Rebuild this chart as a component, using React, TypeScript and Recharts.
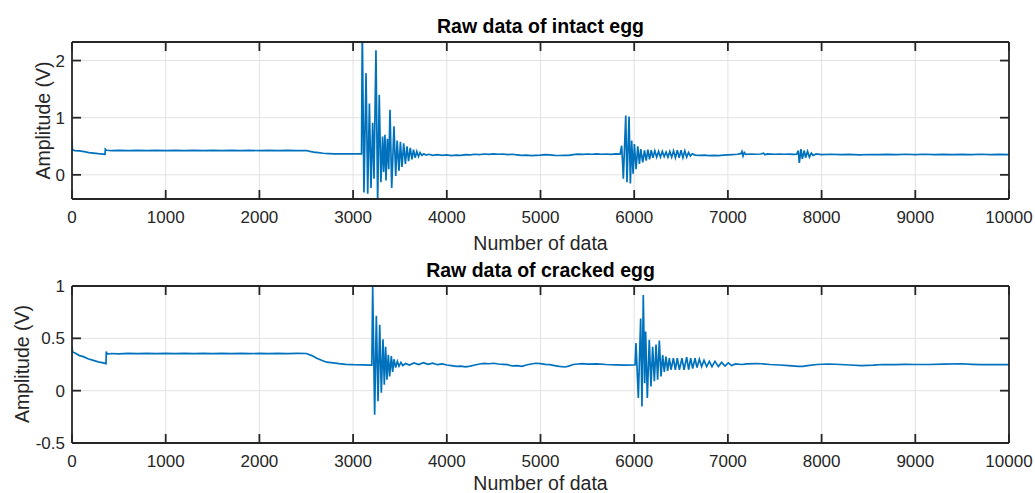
import React from "react";
import { LineChart, Line, XAxis, YAxis, CartesianGrid } from "recharts";

// sample index vs amplitude (V)
const intactLead: [number, number][] = [
  [0, 0.63], [4, 0.44], [30, 0.425], [80, 0.42], [130, 0.405], [180, 0.39], [230, 0.38], [280, 0.37],
  [330, 0.362], [352, 0.358], [356, 0.45], [370, 0.43], [420, 0.425], [500, 0.428], [600, 0.423],
  [700, 0.427], [800, 0.424], [900, 0.428], [1000, 0.425], [1100, 0.427], [1200, 0.424], [1300, 0.428],
  [1400, 0.425], [1500, 0.427], [1600, 0.424], [1700, 0.428], [1800, 0.425], [1900, 0.427], [2000, 0.424],
  [2100, 0.427], [2200, 0.425], [2300, 0.428], [2400, 0.425], [2500, 0.426], [2540, 0.41], [2580, 0.398],
  [2630, 0.388], [2680, 0.378], [2740, 0.372], [2800, 0.368], [2900, 0.367], [3000, 0.366], [3090, 0.366],
];
const intactImpact1: [number, number][] = [
  [3098, 2.6], [3116, -0.31], [3138, 1.78], [3156, -0.33], [3174, 1.25], [3191, -0.23], [3209, 0.91],
  [3223, -0.07], [3244, 2.18], [3262, -0.5], [3279, 1.4], [3297, -0.13], [3315, 0.67], [3326, 0.05],
  [3340, 0.7], [3351, -0.1], [3366, 0.63], [3380, 0.1], [3394, 1.14], [3412, -0.23], [3436, 0.85],
  [3455, -0.02], [3470, 0.6], [3490, 0.07], [3505, 0.58], [3522, 0.14], [3540, 0.55], [3558, 0.19],
  [3575, 0.5], [3592, 0.24], [3610, 0.47], [3628, 0.27], [3645, 0.44], [3662, 0.3], [3680, 0.41],
  [3698, 0.32], [3715, 0.39], [3735, 0.34], [3755, 0.37], [3780, 0.345], [3810, 0.36],
];
const intactTail1: [number, number][] = [
  [3850, 0.34], [3900, 0.355], [3950, 0.34], [4000, 0.35], [4050, 0.335], [4100, 0.345], [4150, 0.34],
  [4200, 0.355], [4250, 0.35], [4300, 0.36], [4350, 0.355], [4400, 0.365], [4450, 0.358], [4500, 0.366],
  [4550, 0.36], [4600, 0.365], [4650, 0.355], [4700, 0.36], [4750, 0.35], [4800, 0.34], [4850, 0.345],
  [4900, 0.335], [4950, 0.34], [5000, 0.345], [5050, 0.355], [5100, 0.35], [5150, 0.34], [5200, 0.338],
  [5250, 0.342], [5300, 0.34], [5350, 0.355], [5400, 0.362], [5450, 0.358], [5500, 0.365], [5550, 0.36],
  [5600, 0.366], [5650, 0.36], [5700, 0.365], [5750, 0.358], [5800, 0.366], [5850, 0.362],
];
const intactImpact2: [number, number][] = [
  [5866, 0.51], [5877, 0.19], [5884, -0.07], [5910, 1.04], [5923, -0.13], [5945, 1.02], [5959, -0.15],
  [5973, 0.6], [5988, 0.02], [6002, 0.54], [6020, 0.1], [6038, 0.5], [6056, 0.19], [6070, 0.45],
  [6091, 0.22], [6110, 0.43], [6128, 0.25], [6146, 0.44], [6164, 0.27], [6182, 0.43], [6200, 0.3],
  [6220, 0.42], [6240, 0.31], [6260, 0.41], [6280, 0.31], [6300, 0.41], [6320, 0.32], [6340, 0.4],
  [6360, 0.31], [6380, 0.41], [6400, 0.31], [6420, 0.42], [6440, 0.3], [6460, 0.43], [6480, 0.3],
  [6500, 0.43], [6520, 0.3], [6540, 0.42], [6560, 0.31], [6580, 0.39], [6600, 0.33], [6620, 0.37],
];
const intactTail2: [number, number][] = [
  [6650, 0.345], [6700, 0.34], [6750, 0.345], [6800, 0.335], [6850, 0.34], [6900, 0.335], [6950, 0.345],
  [7000, 0.35], [7050, 0.355], [7100, 0.36], [7140, 0.37], [7150, 0.41], [7162, 0.33], [7175, 0.39],
  [7190, 0.36], [7250, 0.365], [7300, 0.36], [7350, 0.365], [7380, 0.38], [7395, 0.35], [7420, 0.365],
  [7500, 0.36], [7550, 0.365], [7600, 0.36], [7650, 0.362], [7700, 0.358], [7734, 0.36], [7751, 0.425],
  [7762, 0.21], [7780, 0.45], [7794, 0.28], [7815, 0.425], [7829, 0.3], [7850, 0.41], [7870, 0.31],
  [7890, 0.38], [7910, 0.34], [7940, 0.365], [8000, 0.355], [8100, 0.36], [8200, 0.352], [8300, 0.358],
  [8400, 0.35], [8500, 0.356], [8600, 0.352], [8700, 0.358], [8800, 0.353], [8900, 0.36], [9000, 0.355],
  [9100, 0.36], [9200, 0.354], [9300, 0.359], [9400, 0.353], [9500, 0.358], [9600, 0.354], [9700, 0.36],
  [9800, 0.355], [9900, 0.358], [10000, 0.355],
];

const crackedLead: [number, number][] = [
  [0, 0.42], [6, 0.37], [32, 0.36], [80, 0.335], [121, 0.325], [170, 0.305], [227, 0.29], [280, 0.275],
  [334, 0.265], [363, 0.258], [366, 0.375], [375, 0.35], [420, 0.355], [500, 0.352], [600, 0.357],
  [700, 0.353], [800, 0.356], [900, 0.354], [1000, 0.357], [1100, 0.353], [1200, 0.356], [1300, 0.354],
  [1400, 0.357], [1500, 0.353], [1600, 0.356], [1700, 0.354], [1800, 0.357], [1900, 0.354], [2000, 0.356],
  [2100, 0.353], [2200, 0.357], [2300, 0.354], [2400, 0.356], [2500, 0.355], [2560, 0.335], [2612, 0.31],
  [2670, 0.288], [2719, 0.272], [2790, 0.265], [2850, 0.258], [2920, 0.252], [3002, 0.248], [3100, 0.246],
  [3200, 0.245],
];
const crackedImpact1: [number, number][] = [
  [3209, 0.99], [3230, -0.23], [3248, 0.715], [3266, -0.1], [3284, 0.63], [3301, -0.02], [3319, 0.49],
  [3333, 0.057], [3347, 0.42], [3361, 0.105], [3376, 0.343], [3390, 0.136], [3408, 0.33], [3422, 0.18],
  [3436, 0.3], [3454, 0.22], [3472, 0.28], [3490, 0.235], [3510, 0.27], [3530, 0.24],
];
const crackedTail1: [number, number][] = [
  [3560, 0.26], [3600, 0.245], [3650, 0.265], [3700, 0.25], [3750, 0.268], [3800, 0.252], [3850, 0.262],
  [3900, 0.248], [3950, 0.255], [4000, 0.245], [4050, 0.24], [4100, 0.232], [4150, 0.235], [4200, 0.228],
  [4250, 0.235], [4300, 0.245], [4350, 0.255], [4400, 0.26], [4450, 0.257], [4500, 0.262], [4550, 0.255],
  [4600, 0.252], [4650, 0.248], [4700, 0.236], [4750, 0.24], [4800, 0.232], [4850, 0.245], [4900, 0.255],
  [4950, 0.262], [5000, 0.258], [5050, 0.252], [5100, 0.248], [5150, 0.24], [5200, 0.232], [5260, 0.226],
  [5300, 0.235], [5350, 0.25], [5400, 0.255], [5450, 0.258], [5500, 0.254], [5600, 0.256], [5700, 0.25],
  [5800, 0.247], [5900, 0.244], [6000, 0.245],
];
const crackedImpact2: [number, number][] = [
  [6009, 0.245], [6019, 0.455], [6044, -0.07], [6069, 0.69], [6083, -0.15], [6097, 0.915], [6112, 0.07],
  [6122, 0.565], [6140, -0.07], [6161, 0.486], [6179, 0.04], [6197, 0.42], [6215, 0.09], [6233, 0.44],
  [6250, 0.105], [6268, 0.48], [6286, 0.136], [6304, 0.34], [6321, 0.18], [6339, 0.325], [6357, 0.19],
  [6375, 0.31], [6393, 0.2], [6418, 0.31], [6439, 0.2], [6460, 0.31], [6482, 0.2], [6510, 0.31],
  [6532, 0.2], [6560, 0.32], [6581, 0.2], [6603, 0.31], [6624, 0.21], [6649, 0.31], [6670, 0.22],
  [6695, 0.3], [6720, 0.23], [6745, 0.29], [6773, 0.23], [6802, 0.28], [6830, 0.23], [6862, 0.28],
  [6898, 0.23], [6933, 0.27], [6969, 0.235], [7004, 0.265], [7040, 0.24],
];
const crackedTail2: [number, number][] = [
  [7080, 0.255], [7150, 0.25], [7200, 0.256], [7300, 0.258], [7360, 0.257], [7450, 0.25], [7550, 0.245],
  [7650, 0.24], [7750, 0.232], [7800, 0.232], [7850, 0.24], [7950, 0.25], [8072, 0.255], [8200, 0.25],
  [8300, 0.245], [8428, 0.24], [8550, 0.244], [8650, 0.25], [8783, 0.248], [8900, 0.252], [9000, 0.25],
  [9139, 0.25], [9300, 0.254], [9495, 0.257], [9600, 0.252], [9700, 0.248], [9851, 0.248], [10000, 0.248],
];

const xTicks = [0, 1000, 2000, 3000, 4000, 5000, 6000, 7000, 8000, 9000, 10000];
const intactTicks = [0, 1, 2];
const crackedTicks = [-0.5, 0, 0.5, 1];

const FONT = '"Liberation Sans", Arial, Helvetica, sans-serif';
const AXIS = "#262626";
const BLUE = "#0072BD";

const toRows = (parts: [number, number][][]) =>
  parts.flat().map(([x, y]) => ({ x, y }));

function Panel({
  rows,
  yDomain,
  yTicks,
  height,
  top,
  bottom,
}: {
  rows: { x: number; y: number }[];
  yDomain: [number, number];
  yTicks: number[];
  height: number;
  top: number;
  bottom: number;
}) {
  const tickStyle = { fontSize: 17, fill: AXIS, fontFamily: FONT };
  const axisLine = { stroke: AXIS, strokeWidth: 1.8 };
  const tickLine = { stroke: AXIS, strokeWidth: 1.8 };
  return (
    <LineChart
      width={1035}
      height={height}
      data={rows}
      margin={{ top: top - 1, right: 25, left: 10, bottom: bottom - 30 }}
    >
      <CartesianGrid stroke="#e2e2e2" strokeWidth={1} />
      <XAxis
        dataKey="x"
        type="number"
        domain={[0, 10000]}
        ticks={xTicks}
        interval={0}
        allowDataOverflow
        height={30}
        tickSize={-9}
        tickMargin={21}
        tick={tickStyle}
        axisLine={axisLine}
        tickLine={tickLine}
      />
      {/* box edges: top and right axes, marks only */}
      <XAxis
        xAxisId="top"
        dataKey="x"
        orientation="top"
        type="number"
        domain={[0, 10000]}
        ticks={xTicks}
        interval={0}
        allowDataOverflow
        height={1}
        tickSize={-9}
        tickFormatter={() => ""}
        axisLine={axisLine}
        tickLine={tickLine}
      />
      <YAxis
        type="number"
        domain={yDomain}
        ticks={yTicks}
        interval={0}
        allowDataOverflow
        width={62}
        tickSize={-9}
        tickMargin={16}
        tick={tickStyle}
        axisLine={axisLine}
        tickLine={tickLine}
      />
      <YAxis
        yAxisId="right"
        orientation="right"
        type="number"
        domain={yDomain}
        ticks={yTicks}
        interval={0}
        allowDataOverflow
        width={1}
        tickSize={-9}
        tickFormatter={() => ""}
        axisLine={axisLine}
        tickLine={tickLine}
      />
      <Line
        xAxisId="top"
        yAxisId="right"
        type="linear"
        dataKey="y"
        stroke="none"
        dot={false}
        activeDot={false}
        isAnimationActive={false}
      />
      <Line
        type="linear"
        dataKey="y"
        stroke={BLUE}
        strokeWidth={1.7}
        dot={false}
        isAnimationActive={false}
      />
    </LineChart>
  );
}

export default function App() {
  const intactRows = toRows([intactLead, intactImpact1, intactTail1, intactImpact2, intactTail2]);
  const crackedRows = toRows([crackedLead, crackedImpact1, crackedTail1, crackedImpact2, crackedTail2]);
  return (
    <div style={{ position: "absolute", left: 0, top: 0, width: 1035, height: 493, background: "#fff", fontFamily: FONT }}>
      <div style={{ position: "absolute", left: 0, top: 0 }}>
        <Panel rows={intactRows} yDomain={[-0.423, 2.325]} yTicks={intactTicks} height={250} top={42} bottom={51} />
      </div>
      <div style={{ position: "absolute", left: 0, top: 250 }}>
        <Panel rows={crackedRows} yDomain={[-0.5, 1]} yTicks={crackedTicks} height={243} top={36} bottom={50} />
      </div>
      <svg width={1035} height={493} style={{ position: "absolute", left: 0, top: 0, pointerEvents: "none" }}>
        <g fontFamily={FONT}>
          <text x={540.5} y={33} textAnchor="middle" fontSize={19.5} fontWeight="bold" fill="#000">
            Raw data of intact egg
          </text>
          <text x={540.5} y={250} textAnchor="middle" fontSize={19.5} fill={AXIS}>
            Number of data
          </text>
          <text x={49.5} y={120.5} textAnchor="middle" fontSize={19.5} fill={AXIS} transform="rotate(-90 49.5 120.5)">
            Amplitude (V)
          </text>
          <text x={540.5} y={277} textAnchor="middle" fontSize={19.5} fontWeight="bold" fill="#000">
            Raw data of cracked egg
          </text>
          <text x={540.5} y={490} textAnchor="middle" fontSize={19.5} fill={AXIS}>
            Number of data
          </text>
          <text x={28.5} y={364} textAnchor="middle" fontSize={19.5} fill={AXIS} transform="rotate(-90 28.5 364)">
            Amplitude (V)
          </text>
        </g>
      </svg>
    </div>
  );
}
